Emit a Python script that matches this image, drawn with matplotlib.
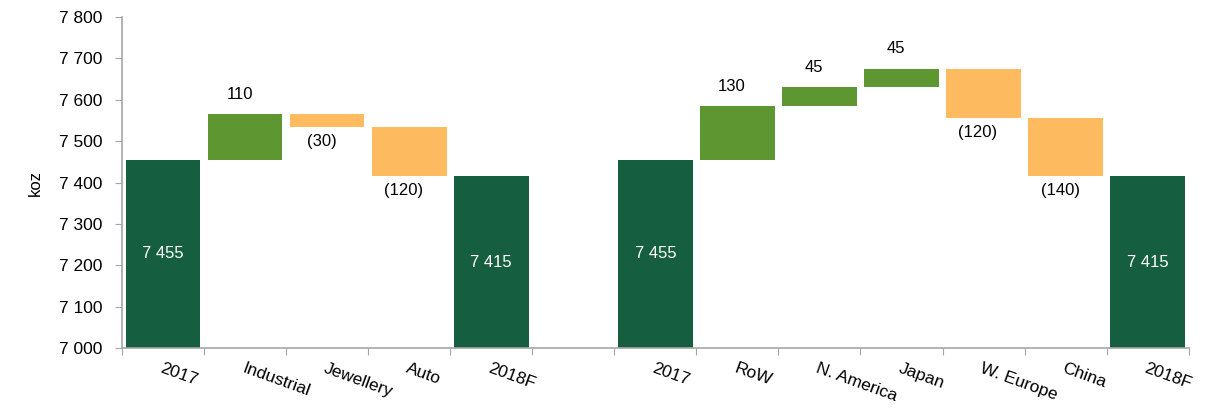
import matplotlib
matplotlib.use("Agg")
import matplotlib.pyplot as plt
import numpy as np

# waterfall data (koz)
categories = ["2017", "Industrial", "Jewellery", "Auto", "2018F", "",
              "2017", "RoW", "N. America", "Japan", "W. Europe", "China", "2018F"]
start_total = 7455
end_total = 7415
left_changes = [110, -30, -120]
right_changes = [130, 45, 45, -120, -140]
yticks = [7000, 7100, 7200, 7300, 7400, 7500, 7600, 7700, 7800]

DARK = "#165E40"
UP = "#5E9732"
DOWN = "#FDBA5E"

plt.rcParams['font.family'] = ['Liberation Sans', 'DejaVu Sans']

fig = plt.figure(figsize=(12.08, 4.08), dpi=100)
ax = fig.add_axes([0.101, 0.147, 0.883, 0.811])

base = 7000
width = 0.91


def fmt(v):
    s = "{:,}".format(abs(v)).replace(",", " ")
    return "(%s)" % s if v < 0 else s


def draw_group(x0, changes):
    # opening total
    ax.bar(x0, start_total - base, bottom=base, width=width, color=DARK)
    ax.text(x0, (start_total + base) / 2, fmt(start_total), color="white",
            ha="center", va="center", fontsize=12)
    level = start_total
    for i, c in enumerate(changes):
        x = x0 + 1 + i
        lo = min(level, level + c)
        ax.bar(x, abs(c), bottom=lo, width=width, color=UP if c > 0 else DOWN)
        if c > 0:
            ax.annotate(fmt(c), (x, level + c), xytext=(-4, 9), textcoords="offset points",
                        ha="center", va="bottom", fontsize=12)
        else:
            ax.annotate(fmt(c), (x, level + c), xytext=(-4, -5), textcoords="offset points",
                        ha="center", va="top", fontsize=12)
        level += c
    xe = x0 + 1 + len(changes)
    ax.bar(xe, end_total - base, bottom=base, width=width, color=DARK)
    ax.text(xe, (end_total + base) / 2, fmt(end_total), color="white",
            ha="center", va="center", fontsize=12)


draw_group(0, left_changes)
draw_group(6, right_changes)

n = len(categories)
ax.set_xlim(-0.5, n - 0.5)
ax.set_ylim(7000, 7800)
ax.set_yticks(yticks)
ax.set_yticklabels([fmt(v) for v in yticks], fontsize=12.5)
ax.set_ylabel("koz", fontsize=12, labelpad=12)

# boundaries as ticks, names at slot centres
ax.set_xticks(np.arange(n + 1) - 0.5)
ax.set_xticklabels([])
ax.set_xticks(np.arange(n), minor=True)
ax.set_xticklabels(categories, minor=True, rotation=-20, ha="left",
                   rotation_mode="anchor", fontsize=12.5)
ax.tick_params(axis="x", which="minor", length=0, pad=9)
ax.tick_params(axis="x", which="major", length=5, color="#A6A6A6")
ax.tick_params(axis="y", length=5, color="#A6A6A6", pad=9)

for s in ["top", "right"]:
    ax.spines[s].set_visible(False)
for s in ["left", "bottom"]:
    ax.spines[s].set_color("#A6A6A6")
    ax.spines[s].set_linewidth(1.2)

fig.savefig("out.png", dpi=100)
